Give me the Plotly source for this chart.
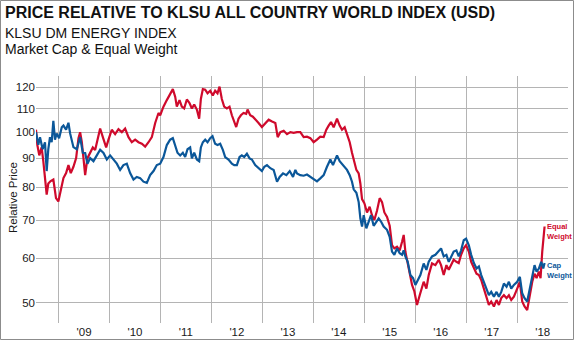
import math
import pandas as pd
import plotly.graph_objects as go

# ---------------- data ----------------
eq_years = [
    2008.558, 2008.584, 2008.623, 2008.669, 2008.702, 2008.735, 2008.768, 2008.800, 2008.846, 2008.899,
    2008.951, 2008.997, 2009.043, 2009.095, 2009.147, 2009.193, 2009.239, 2009.291, 2009.344, 2009.390,
    2009.422, 2009.455, 2009.488, 2009.521, 2009.566, 2009.619, 2009.671, 2009.717, 2009.750, 2009.815,
    2009.868, 2009.933, 2009.979, 2010.044, 2010.110, 2010.175, 2010.241, 2010.306, 2010.372, 2010.437,
    2010.503, 2010.568, 2010.634, 2010.699, 2010.765, 2010.830, 2010.896, 2010.961, 2010.994,
    2011.059, 2011.125, 2011.190, 2011.243, 2011.289, 2011.321, 2011.374, 2011.419, 2011.465, 2011.518,
    2011.570, 2011.616, 2011.662, 2011.714, 2011.760, 2011.793, 2011.832, 2011.878, 2011.924, 2011.976,
    2012.028, 2012.074, 2012.120, 2012.160, 2012.205, 2012.251, 2012.304, 2012.356, 2012.402, 2012.448,
    2012.487, 2012.533, 2012.579, 2012.631, 2012.683, 2012.710, 2012.762, 2012.814, 2012.860, 2012.926,
    2012.991, 2013.057, 2013.122, 2013.188, 2013.253, 2013.299, 2013.351, 2013.417, 2013.482, 2013.548,
    2013.613, 2013.678, 2013.743, 2013.809, 2013.874, 2013.940, 2014.005, 2014.071, 2014.136, 2014.202,
    2014.254, 2014.300, 2014.346, 2014.398, 2014.464, 2014.516, 2014.562, 2014.614, 2014.660, 2014.713,
    2014.758, 2014.804, 2014.844, 2014.889, 2014.922, 2014.955, 2015.001, 2015.053, 2015.105, 2015.151,
    2015.197, 2015.249, 2015.302, 2015.348, 2015.394, 2015.446, 2015.498, 2015.544, 2015.590, 2015.642,
    2015.695, 2015.741, 2015.773, 2015.806, 2015.852, 2015.904, 2015.937, 2015.983, 2016.035, 2016.088,
    2016.166, 2016.219, 2016.265, 2016.330, 2016.396, 2016.461, 2016.507, 2016.559, 2016.612, 2016.658,
    2016.703, 2016.755, 2016.808, 2016.854, 2016.900, 2016.952, 2016.998, 2017.050, 2017.096, 2017.149,
    2017.201, 2017.247, 2017.293, 2017.345, 2017.398, 2017.443, 2017.489, 2017.542, 2017.594, 2017.640,
    2017.686, 2017.738, 2017.790, 2017.836, 2017.882, 2017.934, 2017.999, 2018.052, 2018.098, 2018.144,
    2018.196, 2018.249, 2018.295, 2018.340, 2018.380, 2018.425, 2018.458, 2018.491, 2018.511, 2018.537,
]
eq_values = [
    101, 95, 91, 94, 88.9, 84, 77.6, 81.2, 82, 82.5,
    76.5, 75.5, 79.3, 83, 84.7, 87.5, 84.7, 86.9, 90, 97.6,
    100, 96.1, 90, 84, 90, 92, 94, 93, 96, 101.5,
    98, 94, 97, 101, 99.2, 101.2, 100, 101.5, 98, 96,
    97, 96, 95.4, 94.3, 96, 98, 103.8, 108.1, 107.1,
    110.9, 113.9, 117.1, 119.1, 115.5, 110.9, 113.9, 110.9, 110.1, 114.2,
    112.5, 110.1, 111.9, 109.6, 105.6, 114.4, 119.1, 118.8, 117.1, 118.3,
    116.1, 118.3, 117.1, 120.3, 114.4, 110.9, 110.1, 110.9, 107.1, 104.2,
    102.1, 105.6, 107.1, 108.1, 107.7, 109.6, 107.1, 106.5, 105.2, 103.8,
    102.1, 103.8, 105.2, 104.4, 103.8, 98, 100, 100.6, 99.2, 100,
    99.7, 100, 100, 98, 98.2, 97.6, 96, 97, 98.2, 98,
    101, 102.7, 104.2, 102, 105.6, 102.7, 101, 102, 99.2, 96,
    92, 88, 85.8, 84.6, 81.2, 76.2, 75, 72.2, 73.9, 71.4,
    70.0, 72.7, 76.5, 75.3, 72.2, 70.9, 68.4, 63.2, 62.4, 62.8,
    61.9, 64.1, 65.9, 61.6, 58.8, 56.0, 53.8, 52.4, 49.6, 51.6,
    54.5, 53, 56, 58.7, 58.3, 59.6, 58.3, 56, 58.3, 57.2,
    58.3, 59.6, 59.1, 58.8, 60.8, 62.4, 63.2, 61.6, 59.1, 57.5,
    56.3, 56, 54.9, 53, 51.3, 49.6, 50.3, 49.3, 50.6, 49.6,
    51, 51.6, 51, 51.6, 50.6, 51.3, 53, 54.5, 50.3, 49.3,
    48.6, 51.6, 54.5, 56.3, 55.3, 56.8, 55.3, 61.6, 64.9, 68.2,
]

cap_years = [
    2008.558, 2008.604, 2008.637, 2008.689, 2008.735, 2008.768, 2008.800, 2008.833, 2008.866, 2008.899,
    2008.931, 2008.964, 2009.010, 2009.062, 2009.095, 2009.147, 2009.193, 2009.226, 2009.291, 2009.357,
    2009.422, 2009.475, 2009.521, 2009.566, 2009.619, 2009.684, 2009.750, 2009.815, 2009.881, 2009.946,
    2010.012, 2010.077, 2010.143, 2010.208, 2010.273, 2010.339, 2010.404, 2010.470, 2010.535, 2010.601,
    2010.666, 2010.732, 2010.797, 2010.863, 2010.928,
    2010.994, 2011.059, 2011.125, 2011.190, 2011.243, 2011.289, 2011.334, 2011.387, 2011.439, 2011.485,
    2011.531, 2011.583, 2011.616, 2011.662, 2011.714, 2011.760, 2011.793, 2011.832, 2011.878, 2011.924,
    2011.976, 2012.022, 2012.074, 2012.120, 2012.173, 2012.225, 2012.271, 2012.336, 2012.402, 2012.448,
    2012.500, 2012.553, 2012.598, 2012.644, 2012.697, 2012.749, 2012.795, 2012.860, 2012.926, 2012.991,
    2013.037, 2013.089, 2013.155, 2013.220, 2013.286, 2013.338, 2013.404, 2013.469, 2013.535, 2013.600,
    2013.646, 2013.678, 2013.743, 2013.809, 2013.874, 2013.940, 2014.005, 2014.071, 2014.136, 2014.202,
    2014.267, 2014.333, 2014.385, 2014.431, 2014.464, 2014.516, 2014.562, 2014.614, 2014.660, 2014.713,
    2014.758, 2014.791, 2014.844, 2014.889, 2014.922, 2014.955, 2014.988, 2015.040, 2015.086, 2015.132,
    2015.184, 2015.236, 2015.282, 2015.328, 2015.380, 2015.446, 2015.498, 2015.544, 2015.590, 2015.642,
    2015.695, 2015.741, 2015.773, 2015.806, 2015.852, 2015.904, 2015.957, 2016.003, 2016.048,
    2016.101, 2016.166, 2016.219, 2016.265, 2016.330, 2016.396, 2016.461, 2016.507, 2016.559, 2016.612,
    2016.658, 2016.703, 2016.755, 2016.808, 2016.854, 2016.900, 2016.952, 2016.998, 2017.050, 2017.096,
    2017.149, 2017.201, 2017.247, 2017.293, 2017.345, 2017.398, 2017.443, 2017.489, 2017.542, 2017.594,
    2017.640, 2017.686, 2017.738, 2017.790, 2017.836, 2017.882, 2017.934, 2017.999, 2018.052, 2018.098,
    2018.144, 2018.196, 2018.249, 2018.295, 2018.340, 2018.380, 2018.425, 2018.471, 2018.511, 2018.537,
]
cap_values = [
    100, 95, 98, 93.3, 96, 85.4, 93.4, 98, 96, 104.7,
    97, 99.5, 97.6, 102, 102.7, 101, 103.9, 99.5, 94.1, 93.3,
    98, 92, 91.9, 88, 90, 88.9, 91.0, 93.1, 91.9, 89.5,
    91, 89.5, 88, 85.8, 87.5, 88, 84.7, 82.5, 83.4, 83.0,
    81.8, 81.4, 84.0, 85.4, 87.5,
    88, 90.4, 94.9, 97, 97.6, 95, 92, 91, 92, 90.4,
    93.3, 94, 89.9, 92, 89.5, 88.9, 94, 96, 97, 96,
    97.6, 98.4, 95.4, 94.9, 95.4, 93.1, 90.4, 89.5, 88, 87.5,
    87.5, 90.4, 91, 90.4, 91.6, 89.9, 89.5, 87.5, 86.4, 85.4,
    86.9, 87.5, 86.4, 85.8, 81.8, 83.4, 84.6, 84.0, 85.4, 83.4,
    85.8, 84.6, 84, 83.8, 84.2, 83.4, 82.9, 81.9, 82.9, 84,
    86.9, 89.5, 87.5, 89.5, 91, 88.9, 88, 86.9, 85.8, 84,
    81.8, 79.3, 78.2, 75.3, 70.5, 68.2, 71.4, 67.7, 69.6, 71.4,
    68.4, 69.6, 70.5, 69.6, 68.2, 67.3, 65.4, 61.6, 60.8, 62.4,
    61.2, 60.8, 61.9, 60.4, 59.1, 56, 55.3, 53.8, 54.9,
    56, 58.7, 57.2, 59.1, 60.4, 60.8, 61.6, 62.4, 60.4, 60.8,
    59.1, 60.4, 61.6, 61.9, 60.4, 61.9, 64.5, 64.9, 63.2, 60.8,
    58.8, 57.5, 58.0, 56, 54.5, 53, 51.6, 52.3, 51.3, 52.3,
    51.3, 52.3, 54.1, 53.4, 54.5, 53, 53.8, 54.5, 55.6, 52,
    51, 50.3, 53, 56, 58.3, 56.8, 57.5, 59.1, 57.5, 58.8,
]

y_ticks = [50, 60, 70, 80, 90, 100, 110, 120]
y_ticktext = ["50", "60", "70", "80", "90", "100", "110", "120"]

title_line1 = "PRICE RELATIVE TO KLSU ALL COUNTRY WORLD INDEX (USD)"
title_line2 = "KLSU DM ENERGY INDEX"
title_line3 = "Market Cap & Equal Weight"
y_title = "Relative Price"
eq_label = "Equal<br>Weight"
cap_label = "Cap<br>Weight"


def to_dates(years):
    out = []
    for y in years:
        base = int(math.floor(y))
        out.append(pd.Timestamp(f"{base}-01-01") + pd.Timedelta(days=(y - base) * 365.25))
    return out


RED = "#cf0a2c"
BLUE = "#0b5799"
GRID = "#b4b4b4"
FONT = "Liberation Sans, Arial, sans-serif"

W, H = 574, 340
ML, MR, MT, MB = 36, 6, 76, 17
PW, PH = W - ML - MR, H - MT - MB


def px_x(px):
    return (px - ML) / PW


def px_y(py):
    return (H - MB - py) / PH


fig = go.Figure()
fig.add_trace(go.Scatter(x=to_dates(eq_years), y=eq_values, mode="lines",
                         line=dict(color=RED, width=2.2), name="Equal Weight",
                         hoverinfo="skip"))
fig.add_trace(go.Scatter(x=to_dates(cap_years), y=cap_values, mode="lines",
                         line=dict(color=BLUE, width=2.2), name="Cap Weight",
                         hoverinfo="skip"))

fig.update_layout(
    width=W, height=H,
    margin=dict(l=ML, r=MR, t=MT, b=MB, pad=0),
    paper_bgcolor="white", plot_bgcolor="white",
    showlegend=False,
    font=dict(family=FONT, color="#1a1a1a"),
)

fig.update_xaxes(
    type="date",
    range=["2008-07-23", "2018-12-31"],
    tick0="2009-01-01", dtick="M12",
    ticklabelmode="period", tickformat="'%y",
    showgrid=True, gridcolor=GRID, gridwidth=1,
    showline=False, zeroline=False, ticks="",
    tickfont=dict(size=11.5, family=FONT, color="#1a1a1a"),
    automargin=False,
)
fig.update_yaxes(
    type="log",
    range=[math.log10(46.1), math.log10(125.6)],
    tickvals=y_ticks, ticktext=y_ticktext,
    showgrid=True, gridcolor=GRID, gridwidth=1,
    showline=False, zeroline=False, ticks="",
    tickfont=dict(size=11.5, family=FONT, color="#1a1a1a"),
    automargin=False,
)

# outer frame
fig.add_shape(type="rect", xref="paper", yref="paper",
              x0=px_x(0.5), x1=px_x(W - 0.5), y0=px_y(H - 0.5), y1=px_y(0.5),
              line=dict(color="#8c8c8c", width=1), layer="above")

ann = [
    dict(text="<b>" + title_line1 + "</b>", x=px_x(3), y=px_y(2), size=16),
    dict(text=title_line2, x=px_x(3), y=px_y(23), size=14),
    dict(text=title_line3, x=px_x(3), y=px_y(39), size=14),
]
for a in ann:
    fig.add_annotation(text=a["text"], xref="paper", yref="paper", x=a["x"], y=a["y"],
                       xanchor="left", yanchor="top", showarrow=False,
                       font=dict(size=a["size"], family=FONT, color="#111111"))

fig.add_annotation(text=y_title, xref="paper", yref="paper", x=px_x(13), y=px_y(198),
                   xanchor="center", yanchor="middle", textangle=-90, showarrow=False,
                   font=dict(size=11.5, family=FONT, color="#1a1a1a"))

fig.add_annotation(text="<b>" + eq_label + "</b>", xref="paper", yref="paper",
                   x=px_x(545), y=px_y(231), xanchor="left", yanchor="middle",
                   align="left", showarrow=False,
                   font=dict(size=7.5, family=FONT, color=RED))
fig.add_annotation(text="<b>" + cap_label + "</b>", xref="paper", yref="paper",
                   x=px_x(545), y=px_y(270), xanchor="left", yanchor="middle",
                   align="left", showarrow=False,
                   font=dict(size=7.5, family=FONT, color=BLUE))

fig.write_html("out.html")
